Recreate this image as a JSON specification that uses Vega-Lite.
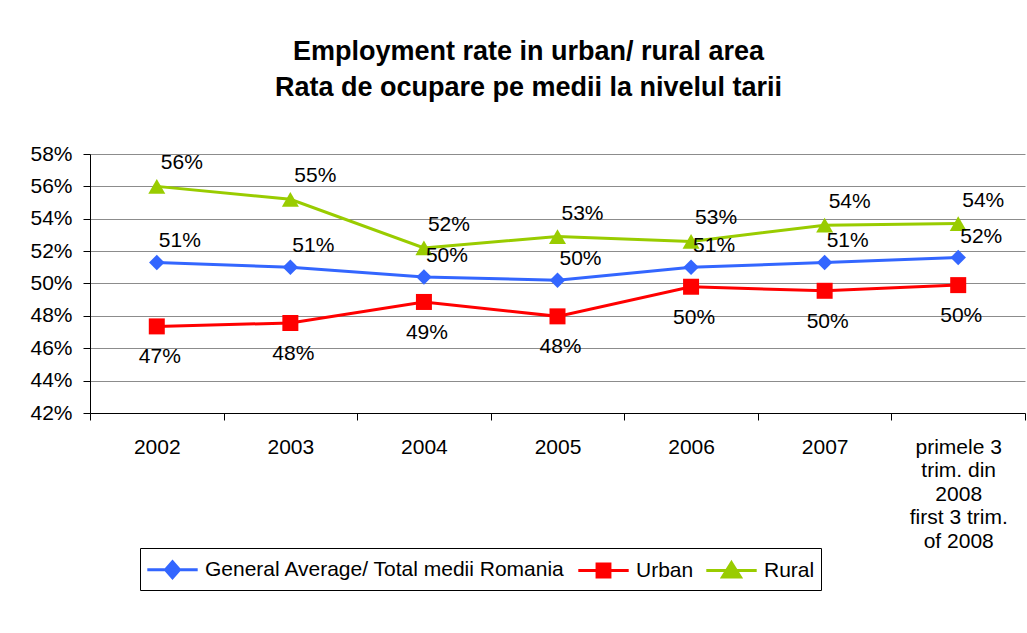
{
  "$schema": "https://vega.github.io/schema/vega-lite/v6.json",
  "autosize": "none",
  "width": 935,
  "height": 259,
  "padding": {"left": 90, "top": 154, "right": 2, "bottom": 220},
  "background": "white",
  "title": {
    "text": ["Employment rate in urban/ rural area", "Rata de ocupare pe medii la nivelul tarii"],
    "fontSize": 27,
    "fontWeight": "bold",
    "font": "Liberation Sans",
    "color": "black",
    "anchor": "middle",
    "lineHeight": 36.5,
    "baseline": "bottom",
    "dx": -29,
    "offset": 14
  },
  "data": {
    "values": [
      {"period": "2002", "series": "General Average/ Total medii Romania", "value": 0.513},
      {"period": "2003", "series": "General Average/ Total medii Romania", "value": 0.510},
      {"period": "2004", "series": "General Average/ Total medii Romania", "value": 0.504},
      {"period": "2005", "series": "General Average/ Total medii Romania", "value": 0.502},
      {"period": "2006", "series": "General Average/ Total medii Romania", "value": 0.510},
      {"period": "2007", "series": "General Average/ Total medii Romania", "value": 0.513},
      {"period": "primele 3|trim. din|2008|first 3 trim.|of 2008", "series": "General Average/ Total medii Romania", "value": 0.516},
      {"period": "2002", "series": "Urban", "value": 0.4735},
      {"period": "2003", "series": "Urban", "value": 0.4756},
      {"period": "2004", "series": "Urban", "value": 0.4886},
      {"period": "2005", "series": "Urban", "value": 0.4797},
      {"period": "2006", "series": "Urban", "value": 0.498},
      {"period": "2007", "series": "Urban", "value": 0.4955},
      {"period": "primele 3|trim. din|2008|first 3 trim.|of 2008", "series": "Urban", "value": 0.499},
      {"period": "2002", "series": "Rural", "value": 0.560},
      {"period": "2003", "series": "Rural", "value": 0.552},
      {"period": "2004", "series": "Rural", "value": 0.522},
      {"period": "2005", "series": "Rural", "value": 0.529},
      {"period": "2006", "series": "Rural", "value": 0.526},
      {"period": "2007", "series": "Rural", "value": 0.536},
      {"period": "primele 3|trim. din|2008|first 3 trim.|of 2008", "series": "Rural", "value": 0.537}
    ]
  },
  "encoding": {
    "x": {
      "field": "period",
      "type": "nominal",
      "sort": null,
      "bandPosition": 0.5,
      "scale": {"type": "band", "paddingInner": 0, "paddingOuter": 0},
      "axis": {
        "title": null,
        "labelAngle": 0,
        "labelFontSize": 21,
        "labelFont": "Liberation Sans",
        "labelColor": "black",
        "labelExpr": "split(datum.label, '|')",
        "labelLineHeight": 23.5,
        "labelPadding": 16,
        "labelBaseline": "top",
        "tickBand": "extent",
        "tickSize": 7,
        "tickColor": "black",
        "domainColor": "black",
        "grid": false
      }
    },
    "y": {
      "field": "value",
      "type": "quantitative",
      "scale": {"domain": [0.42, 0.58], "nice": false, "zero": false},
      "axis": {
        "title": null,
        "values": [0.42, 0.44, 0.46, 0.48, 0.50, 0.52, 0.54, 0.56, 0.58],
        "format": ".0%",
        "labelFontSize": 21,
        "labelFont": "Liberation Sans",
        "labelColor": "black",
        "labelPadding": 11,
        "tickSize": 7,
        "tickColor": "black",
        "domainColor": "black",
        "gridColor": "#8c8c8c",
        "grid": true
      }
    }
  },
  "layer": [
    {
      "mark": {"type": "line", "strokeWidth": 3},
      "encoding": {
        "color": {
          "field": "series",
          "type": "nominal",
          "sort": null,
          "scale": {
            "domain": ["General Average/ Total medii Romania", "Urban", "Rural"],
            "range": ["#3366FF", "#FF0000", "#99CC00"]
          },
          "legend": {
            "orient": "none",
            "legendX": 50,
            "legendY": 394,
            "direction": "horizontal",
            "title": null,
            "strokeColor": "black",
            "padding": 6,
            "labelFontSize": 21,
            "labelFont": "Liberation Sans",
            "labelColor": "black",
            "labelLimit": 800,
            "labelOffset": 17,
            "columnPadding": 6,
            "symbolSize": 784,
            "symbolOffset": 11,
            "symbolStrokeWidth": 3,
            "encode": {
              "symbols": {
                "update": {
                  "shape": {"signal": "datum.value === 'Urban' ? 'M-1.8,0H1.8M-0.46,-0.46H0.46V0.46H-0.46Z' : (datum.value === 'Rural' ? 'M-1.8,0H1.8M0,-0.56L0.64,0.46H-0.64Z' : 'M-1.8,0H1.8M0,-0.57L0.5,0L0,0.57L-0.5,0Z')"},
                  "fill": {"signal": "scale('color', datum.value)"},
                  "stroke": {"signal": "scale('color', datum.value)"}
                }
              }
            }
          }
        }
      }
    },
    {
      "transform": [{"filter": "datum.series === 'General Average/ Total medii Romania'"}],
      "mark": {"type": "point", "shape": "diamond", "filled": true, "opacity": 1, "size": 240, "color": "#3366FF"}
    },
    {
      "transform": [{"filter": "datum.series === 'Urban'"}],
      "mark": {"type": "point", "shape": "square", "filled": true, "opacity": 1, "size": 256, "color": "#FF0000"}
    },
    {
      "transform": [{"filter": "datum.series === 'Rural'"}],
      "mark": {"type": "point", "shape": "triangle-up", "filled": true, "opacity": 1, "size": 289, "color": "#99CC00"}
    },
    {
      "transform": [{"filter": "datum.series === 'General Average/ Total medii Romania'"}],
      "mark": {"type": "text", "fontSize": 21, "font": "Liberation Sans", "color": "black", "align": "center", "baseline": "middle", "dx": 23, "dy": -21},
      "encoding": {"text": {"field": "value", "type": "quantitative", "format": ".0%"}}
    },
    {
      "transform": [{"filter": "datum.series === 'Urban'"}],
      "mark": {"type": "text", "fontSize": 21, "font": "Liberation Sans", "color": "black", "align": "center", "baseline": "middle", "dx": 3, "dy": 31},
      "encoding": {"text": {"field": "value", "type": "quantitative", "format": ".0%"}}
    },
    {
      "transform": [{"filter": "datum.series === 'Rural'"}],
      "mark": {"type": "text", "fontSize": 21, "font": "Liberation Sans", "color": "black", "align": "center", "baseline": "middle", "dx": 25, "dy": -23},
      "encoding": {"text": {"field": "value", "type": "quantitative", "format": ".0%"}}
    }
  ],
  "config": {
    "font": "Liberation Sans",
    "view": {"stroke": null}
  }
}
